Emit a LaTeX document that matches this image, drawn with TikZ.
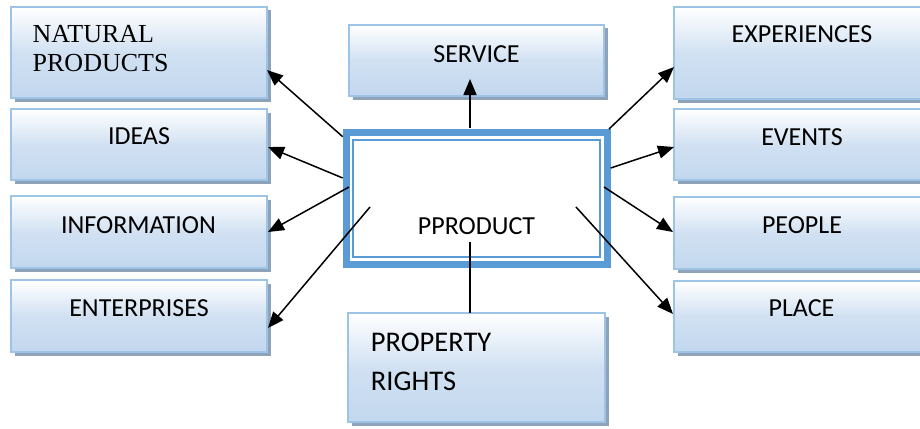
\documentclass[tikz,border=0pt]{standalone}
\usepackage{fontspec}
\setmainfont{Carlito}
\newfontfamily\seriffont{Liberation Serif}
\usetikzlibrary{arrows.meta,shadows}
\definecolor{boxborder}{HTML}{9DC3E6}
\definecolor{boxbottom}{HTML}{C2D7EE}
\definecolor{boxshadow}{HTML}{8EA3BA}
\definecolor{prodblue}{HTML}{5B9BD5}
\begin{document}
\begin{tikzpicture}[x=1pt,y=-1pt,
  wbox/.style={draw=boxborder, line width=1.8pt, inner sep=0pt, outer sep=0pt, anchor=north west,
    top color=white, bottom color=boxbottom, middle color=boxbottom!75,
    drop shadow={shadow xshift=3.5pt, shadow yshift=-3.5pt, fill=boxshadow, opacity=1}},
  lbl/.style={inner sep=0pt, font=\fontsize{26}{31}\selectfont},
  bigl/.style={inner sep=0pt, font=\fontsize{28.5}{34}\selectfont, anchor=base west},
  serl/.style={inner sep=0pt, font=\seriffont\fontsize{26}{29}\selectfont, anchor=base west},
  arr/.style={line width=1.5pt, -{Triangle[length=16pt,width=13pt]}},
  plain/.style={line width=1.5pt}]
\useasboundingbox (0,0) rectangle (920,428);
\clip (0,0) rectangle (920,428);
% left boxes
\node[wbox, minimum width=256pt, minimum height=91pt] (nat) at (11,7) {};
\node[wbox, minimum width=256pt, minimum height=71pt] (ideas) at (11,109) {};
\node[wbox, minimum width=256pt, minimum height=72pt] (info) at (11,196) {};
\node[wbox, minimum width=256pt, minimum height=72pt] (ent) at (11,280) {};
% right boxes
\node[wbox, minimum width=256pt, minimum height=92pt] (exp) at (674,7) {};
\node[wbox, minimum width=256pt, minimum height=71pt] (events) at (674,109) {};
\node[wbox, minimum width=256pt, minimum height=72pt] (people) at (674,197) {};
\node[wbox, minimum width=256pt, minimum height=71pt] (place) at (674,281) {};
% top / bottom boxes
\node[wbox, minimum width=255pt, minimum height=71pt] (service) at (349,25) {};
\node[wbox, minimum width=257pt, minimum height=109pt] (prop) at (348,313) {};
% central box
\node[draw=prodblue, line width=7pt, fill=white, inner sep=0pt, outer sep=0pt, anchor=north west,
  minimum width=261pt, minimum height=132pt] (prod) at (346.5,132.5) {};
\node[draw=prodblue, line width=1.5pt, inner sep=0pt, outer sep=0pt, anchor=north west,
  minimum width=247pt, minimum height=117pt] (prodin) at (353,140) {};
% texts
\node[serl] (natA) at (32.5,42.3) {NATURAL};
\node[serl] (natB) at (32.5,71.7) {PRODUCTS};
\node[lbl, anchor=base] (ideasT) at (139,144.3) {IDEAS};
\node[lbl, anchor=base] (infoT) at (138.5,233.3) {INFORMATION};
\node[lbl, anchor=base] (entT) at (139,316.7) {ENTERPRISES};
\node[lbl, anchor=base] (expT) at (802,43) {EXPERIENCES};
\node[lbl, anchor=base] (eventsT) at (802,145) {EVENTS};
\node[lbl, anchor=base] (peopleT) at (802,233.3) {PEOPLE};
\node[lbl, anchor=base] (placeT) at (801.5,316.7) {PLACE};
\node[lbl, anchor=base] (serviceT) at (476.5,62.7) {SERVICE};
\node[lbl, anchor=base] (prodT) at (476.5,234) {PPRODUCT};
\node[bigl] (propA) at (370.7,351.7) {PROPERTY};
\node[bigl] (propB) at (370.7,390.7) {RIGHTS};
% connector end points
\coordinate (natS) at (342.7,136.7);   \coordinate (natE) at (267,70);
\coordinate (ideasS) at (342.7,178);   \coordinate (ideasE) at (268,147);
\coordinate (infoS) at (349,187);      \coordinate (infoE) at (268,232);
\coordinate (entS) at (370,207);       \coordinate (entE) at (268,328);
\coordinate (servS) at (470,128);      \coordinate (servE) at (470,79);
\coordinate (propS) at (470,242);      \coordinate (propE) at (470,313);
\coordinate (expS) at (609,129);       \coordinate (expE) at (674,67);
\coordinate (eventsS) at (610.7,168);  \coordinate (eventsE) at (674,147);
\coordinate (peopleS) at (604,187);    \coordinate (peopleE) at (673,232);
\coordinate (placeS) at (576,207);     \coordinate (placeE) at (673,314);
% connectors
\draw[arr] (natS) -- (natE);
\draw[arr] (ideasS) -- (ideasE);
\draw[arr] (infoS) -- (infoE);
\draw[arr] (entS) -- (entE);
\draw[arr] (servS) -- (servE);
\draw[plain] (propS) -- (propE);
\draw[arr] (expS) -- (expE);
\draw[arr] (eventsS) -- (eventsE);
\draw[arr] (peopleS) -- (peopleE);
\draw[arr] (placeS) -- (placeE);
\end{tikzpicture}
\end{document}
